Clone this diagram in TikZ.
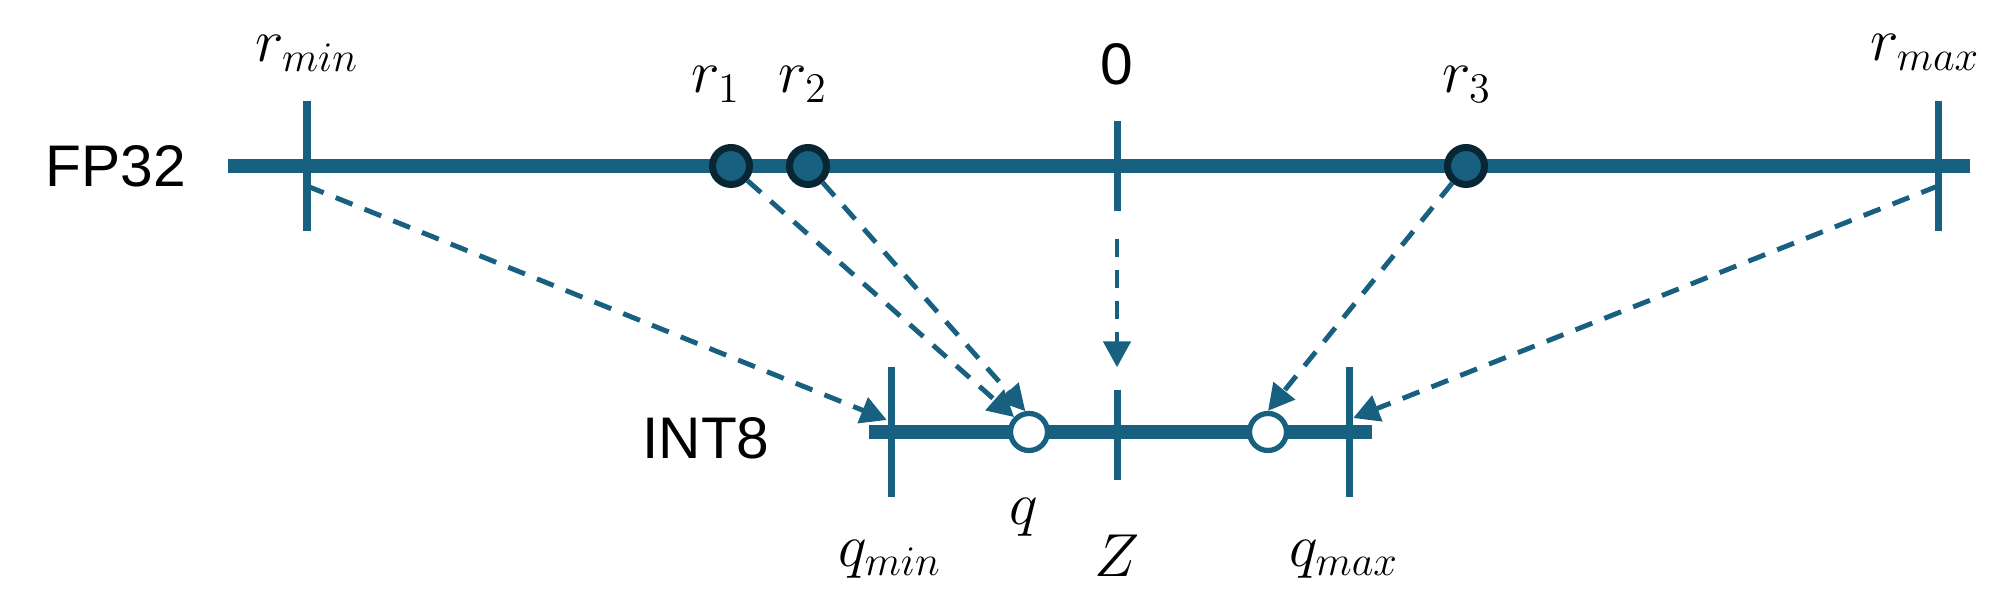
\documentclass[tikz,border=0pt]{standalone}
\usepackage{fontspec}
\setsansfont{Liberation Sans}
\usepackage{amsmath}
\usepackage{tikz}
\usetikzlibrary{arrows.meta}
\usetikzlibrary{calc}

\definecolor{lineblue}{RGB}{23,96,128}
\definecolor{darkblue}{RGB}{8,38,52}

\begin{document}
\begin{tikzpicture}
    \tikzstyle{axis}  = [line width=3.8pt,draw=lineblue]
    \tikzstyle{tick}  = [rectangle,fill=lineblue,inner sep=0pt,minimum width=2pt]
    \tikzstyle{longtick}  = [tick,minimum height=13mm]
    \tikzstyle{shorttick} = [tick,minimum height=9mm]
    \tikzstyle{fpnode}=[
      circle,
      fill=lineblue,
      draw=darkblue,
      line width=2pt,
      inner sep=0pt,
      minimum size=3.7mm,
    ]
    \tikzstyle{intnode}=[
      circle,
      fill=white,
      draw=lineblue,
      line width=1.5pt,
      inner sep=0pt,
      minimum size=3.7mm,
    ]
    \tikzstyle{dedge} = [line width=1.4pt,draw=lineblue,dash pattern=on 1.8mm off 1.3mm,
      -{Triangle[width=2.7mm,length=2.6mm]}]
    \tikzstyle{mlabel}=[anchor=base,inner sep=0pt,font=\fontsize{17.5}{20}\selectfont]
    \tikzstyle{tlabel}=[inner sep=0pt,font=\sffamily\fontsize{16.7}{20}\selectfont]

    \useasboundingbox (0,0) rectangle (20.07,5.95);

    % the two number lines
    \coordinate (fpLeft) at (2.28,4.29);
    \coordinate (fpRight) at (19.70,4.29);
    \coordinate (intLeft) at (8.69,1.63);
    \coordinate (intRight) at (13.72,1.63);
    \draw[axis] (fpLeft)--(fpRight);
    \draw[axis] (intLeft)--(intRight);

    \node[tlabel] (nFP) at (1.16,4.29) {FP32};
    \node[tlabel] (nInt) at (7.06,1.57) {INT8};

    % FP32 side
    \node[longtick] (nRmin) at (3.07,4.29) {};
    \node[longtick] (nRmax) at (19.38,4.29) {};
    \node[shorttick] (nZero) at (11.17,4.29) {};
    \node[fpnode] (nRone) at (7.31,4.29) {};
    \node[fpnode] (nRtwo) at (8.08,4.29) {};
    \node[fpnode] (nRthree) at (14.66,4.29) {};

    \node[mlabel] (lRmin) at (3.07,5.33) {$r_{min}$};
    \node[mlabel] (lRone) at (7.16,5.02) {$r_1$};
    \node[mlabel] (lRtwo) at (8.03,5.02) {$r_2$};
    \node[mlabel,font=\sffamily\fontsize{16.7}{20}\selectfont] (lZero) at (11.17,5.10) {0};
    \node[mlabel] (lRthree) at (14.67,5.02) {$r_3$};
    \node[mlabel] (lRmax) at (19.25,5.34) {$r_{max}$};

    % INT8 side
    \node[longtick] (nQmin) at (8.91,1.63) {};
    \node[longtick] (nQmax) at (13.49,1.63) {};
    \node[shorttick] (nZ) at (11.17,1.60) {};
    \node[intnode] (nQ) at (10.29,1.63) {};
    \node[intnode] (nQtwo) at (12.68,1.63) {};

    \node[mlabel] (lQ) at (10.24,0.70) {$q$};
    \node[mlabel] (lQmin) at (8.90,0.29) {$q_{min}$};
    \node[mlabel] (lZ) at (11.17,0.18) {$Z$};
    \node[mlabel] (lQmax) at (13.44,0.29) {$q_{max}$};

    % mapping
    \draw[dedge] ([yshift=-2mm]nRmin.center)--([yshift=1.2mm]nQmin.west);
    \draw[dedge] (nRone)--(nQ.135);
    \draw[dedge] (nRtwo)--(nQ.100);
    \draw[dedge,shorten <=2.7mm,shorten >=2.2mm] (nZero.south)--(nZ.north);
    \draw[dedge] (nRthree)--(nQtwo.north);
    \draw[dedge] ([yshift=-2mm]nRmax.center)--([yshift=1.4mm]nQmax.east);
\end{tikzpicture}
\end{document}
